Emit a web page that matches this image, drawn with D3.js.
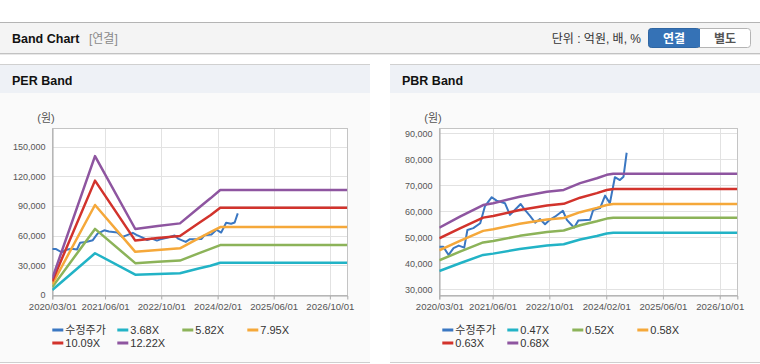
<!DOCTYPE html>
<html>
<head>
<meta charset="utf-8">
<script src="https://cdn.jsdelivr.net/npm/d3@7"></script>
<style>
    body { margin: 0; background: #fff; }
    svg text { font-family: "Liberation Sans", "Noto Sans CJK KR", sans-serif; }
</style>
</head>
<body>
<svg id="band-chart"></svg>
<script>
// Configuration
const config = {
    width: 760,
    height: 364,
    panelWidth: 370,
    plotTop: 128.3,
    plotBottom: 295
};

// Shared x axis
const xTickLabels = ['2020/03/01', '2021/06/01', '2022/10/01', '2024/02/01', '2025/06/01', '2026/10/01'];
const xDomain = ['2020/03/01', '2027/03/01'];

// Adjusted close price (수정주가)
const priceDates = [
    '2020/03/01', '2020/04/03', '2020/05/20', '2020/07/01', '2020/08/15', '2020/10/01',
    '2020/10/28', '2020/12/18', '2021/02/15', '2021/03/28', '2021/05/25', '2021/07/05',
    '2021/09/15', '2021/10/28', '2021/11/28', '2022/01/28', '2022/02/28', '2022/04/18',
    '2022/06/01', '2022/07/12', '2022/08/25', '2022/10/05', '2022/11/18', '2023/01/25',
    '2023/02/28', '2023/04/10', '2023/05/01', '2023/06/06', '2023/09/15', '2023/10/12',
    '2023/12/10', '2024/01/22', '2024/03/03', '2024/04/15', '2024/05/28', '2024/06/28',
    '2024/07/25'
];
const priceValues = [
    46400, 46400, 43200, 45800, 46800, 46000,
    52800, 53500, 55400, 62000, 65400, 64100,
    63100, 58600, 60000, 62800, 60800, 58200,
    55600, 57000, 55000, 56700, 57900, 60200,
    56700, 54700, 53700, 56400, 56700, 60500,
    61200, 66000, 63100, 73100, 72000, 73300,
    82500
];

// PER band
const perLabels = ['3.68X', '5.82X', '7.95X', '10.09X', '12.22X'];
const perDates = ['2020/03/01', '2021/03/06', '2022/02/18', '2022/09/01', '2023/03/12',
    '2023/08/20', '2023/12/01', '2024/02/24', '2027/03/01'];
const per368 = [5050, 42200, 20500, 21200, 21900, 26800, 29600, 32600, 32600];
const per582 = [8000, 66800, 32200, 33600, 34800, 42000, 46600, 50500, 50500];
const per795 = [10900, 91000, 43600, 45400, 47200, 57300, 63500, 68700, 68700];
const per1009 = [13850, 115600, 55000, 57500, 59700, 72600, 80600, 88200, 88200];
const per1222 = [16770, 140400, 66700, 69700, 72400, 88000, 97700, 106100, 106100];
const perYTicks = [0, 30000, 60000, 90000, 120000, 150000];
const perYDomain = [0, 168500];

// PBR band
const pbrLabels = ['0.47X', '0.52X', '0.58X', '0.63X', '0.68X'];
const pbrDates = ['2020/03/01', '2020/08/25', '2021/03/12', '2021/06/06', '2022/01/20', '2022/09/10',
    '2023/02/01', '2023/06/22', '2023/11/12', '2024/02/05', '2024/04/01', '2027/03/01'];
const pbr047 = [37040, 40020, 43210, 43710, 45480, 46840, 47320, 49160, 50520, 51450, 51770, 51770];
const pbr052 = [41150, 44460, 48020, 48570, 50540, 52050, 52590, 54640, 56150, 57180, 57540, 57540];
const pbr058 = [45000, 48600, 52460, 53060, 55200, 56840, 57420, 59650, 61290, 62410, 62800, 62800];
const pbr063 = [49600, 53430, 57550, 58200, 60480, 62220, 62850, 65220, 66970, 68160, 68580, 68580];
const pbr068 = [53700, 57900, 62400, 63100, 65600, 67500, 68200, 70800, 72700, 74000, 74460, 74460];
const pbrYTicks = [30000, 40000, 50000, 60000, 70000, 80000, 90000];
const pbrYDomain = [27800, 91900];

const colors = ['#3a77c2', '#22b3c6', '#8cb359', '#f5a83a', '#d2332c', '#8e55a0'];

const parseDate = d3.timeParse('%Y/%m/%d');
const zip = (dates, values) => dates.map((d, i) => ({ date: parseDate(d), value: values[i] }));

const svg = d3.select('#band-chart')
    .attr('width', config.width)
    .attr('height', config.height);

// Header bar
svg.append('rect').attr('x', 0).attr('y', 22).attr('width', 760).attr('height', 31).attr('fill', '#f4f4f4');
svg.append('line').attr('x1', 0).attr('x2', 760).attr('y1', 22.5).attr('y2', 22.5).attr('stroke', '#b4b4b4');
svg.append('line').attr('x1', 0).attr('x2', 760).attr('y1', 53.5).attr('y2', 53.5).attr('stroke', '#c2c2c2');
svg.append('line').attr('x1', 0).attr('x2', 760).attr('y1', 54.5).attr('y2', 54.5).attr('stroke', '#e8e8e8');
svg.append('text').attr('x', 12).attr('y', 43).attr('font-size', 12.5).attr('font-weight', 'bold')
    .attr('fill', '#111').text('Band Chart');
svg.append('text').attr('x', 89).attr('y', 43).attr('font-size', 12).attr('fill', '#8a8a8a').text('[연결]');
svg.append('text').attr('x', 641).attr('y', 43).attr('font-size', 12).attr('text-anchor', 'end')
    .attr('fill', '#333').text('단위 : 억원, 배, %');

// Toggle buttons
svg.append('rect').attr('x', 648.5).attr('y', 28.5).attr('width', 102).attr('height', 19).attr('rx', 3)
    .attr('fill', '#fff').attr('stroke', '#b4b4b4');
svg.append('rect').attr('x', 648.5).attr('y', 28.5).attr('width', 51).attr('height', 19).attr('rx', 3)
    .attr('fill', '#3572b6').attr('stroke', '#2f66a3');
svg.append('rect').attr('x', 694).attr('y', 29).attr('width', 6).attr('height', 18).attr('fill', '#3572b6');
svg.append('text').attr('x', 674).attr('y', 42.5).attr('font-size', 12).attr('font-weight', 'bold')
    .attr('text-anchor', 'middle').attr('fill', '#fff').text('연결');
svg.append('text').attr('x', 725).attr('y', 42.5).attr('font-size', 12).attr('font-weight', 'bold')
    .attr('text-anchor', 'middle').attr('fill', '#555').text('별도');

// Draw one band panel
function drawPanel(p) {
    const g = svg.append('g').attr('transform', `translate(${p.x0}, 0)`);

    g.append('rect').attr('x', 0).attr('y', 64).attr('width', config.panelWidth).attr('height', 298).attr('fill', '#fafafa');
    g.append('rect').attr('x', 0).attr('y', 64).attr('width', config.panelWidth).attr('height', 29).attr('fill', '#eef1f6');
    g.append('line').attr('x1', 0).attr('x2', config.panelWidth).attr('y1', 64.5).attr('y2', 64.5).attr('stroke', '#d0d0d0');
    g.append('line').attr('x1', 0).attr('x2', config.panelWidth).attr('y1', 362.5).attr('y2', 362.5).attr('stroke', '#cfcfcf');
    g.append('text').attr('x', 12).attr('y', 85).attr('font-size', 12.5).attr('font-weight', 'bold')
        .attr('fill', '#111').text(p.title);

    const x = d3.scaleTime()
        .domain(xDomain.map(parseDate))
        .range([p.left, p.right]);
    const y = d3.scaleLinear()
        .domain(p.yDomain)
        .range([config.plotBottom, config.plotTop]);

    const plotW = p.right - p.left;
    const plotH = config.plotBottom - config.plotTop;

    g.append('rect').attr('x', p.left).attr('y', config.plotTop).attr('width', plotW).attr('height', plotH).attr('fill', '#fff');

    const tickDates = xTickLabels.map(parseDate);

    // Grid lines
    g.append('g').selectAll('line.vgrid')
        .data(tickDates)
        .enter()
        .append('line')
        .attr('x1', d => Math.round(x(d)) + 0.5)
        .attr('x2', d => Math.round(x(d)) + 0.5)
        .attr('y1', config.plotTop)
        .attr('y2', config.plotBottom + 4)
        .attr('stroke', '#e2e2e2');
    g.append('g').selectAll('line.hgrid')
        .data(p.yTicks)
        .enter()
        .append('line')
        .attr('x1', p.left)
        .attr('x2', p.right)
        .attr('y1', d => Math.round(y(d)) + 0.5)
        .attr('y2', d => Math.round(y(d)) + 0.5)
        .attr('stroke', '#e2e2e2');

    // Frame
    g.append('rect').attr('x', Math.round(p.left) + 0.5).attr('y', Math.round(config.plotTop) + 0.5)
        .attr('width', Math.round(plotW)).attr('height', Math.round(plotH))
        .attr('fill', 'none').attr('stroke', '#c4c4c4');

    // X axis
    const xAxis = g.append('g')
        .attr('transform', `translate(0, ${Math.round(config.plotBottom) + 0.5})`)
        .call(d3.axisBottom(x).tickValues(tickDates).tickFormat(d3.timeFormat('%Y/%m/%d')).tickSize(4).tickPadding(4));
    xAxis.select('.domain').attr('stroke', '#a8a8a8');
    xAxis.selectAll('.tick line').attr('stroke', '#b0b0b0');
    xAxis.selectAll('.tick text').attr('font-size', 9.6).attr('fill', '#555');

    // Y axis
    const yAxis = g.append('g')
        .attr('transform', `translate(${Math.round(p.left) + 0.5}, 0)`)
        .call(d3.axisLeft(y).tickValues(p.yTicks).tickFormat(d3.format(',')).tickSize(0).tickPadding(7));
    yAxis.select('.domain').attr('stroke', '#a8a8a8');
    yAxis.selectAll('.tick text').attr('font-size', 9).attr('fill', '#555');

    g.append('text').attr('x', p.left - 15).attr('y', 122).attr('font-size', 11)
        .attr('fill', '#555').text('(원)');

    // Series
    const clipId = `clip-${p.title.replace(' ', '')}`;
    g.append('clipPath').attr('id', clipId)
        .append('rect').attr('x', p.left).attr('y', config.plotTop).attr('width', plotW).attr('height', plotH);

    const line = d3.line()
        .x(d => x(d.date))
        .y(d => y(d.value));

    const linesGroup = g.append('g').attr('clip-path', `url(#${clipId})`);
    linesGroup.selectAll('path')
        .data(p.series)
        .enter()
        .append('path')
        .attr('d', d => line(d.points))
        .attr('fill', 'none')
        .attr('stroke', (d, i) => colors[i])
        .attr('stroke-width', (d, i) => i === 0 ? 2 : 2.5)
        .attr('stroke-linejoin', 'round');

    // Legend (4 per row, fixed item width)
    const legend = g.append('g').selectAll('g')
        .data(p.series)
        .enter()
        .append('g')
        .attr('transform', (d, i) => `translate(${p.legendLeft + (i % 4) * 65}, ${330 + Math.floor(i / 4) * 13})`);
    legend.append('line')
        .attr('x1', 0).attr('x2', 11)
        .attr('stroke', (d, i) => colors[i])
        .attr('stroke-width', 3);
    legend.append('text')
        .attr('x', 13)
        .attr('dy', '0.36em')
        .attr('font-size', 11)
        .attr('fill', '#333')
        .text(d => d.name);
}

drawPanel({
    x0: 0,
    title: 'PER Band',
    left: 52.3,
    right: 347.3,
    yDomain: perYDomain,
    yTicks: perYTicks,
    legendLeft: 52.3,
    series: [
        { name: '수정주가', points: zip(priceDates, priceValues) },
        { name: perLabels[0], points: zip(perDates, per368) },
        { name: perLabels[1], points: zip(perDates, per582) },
        { name: perLabels[2], points: zip(perDates, per795) },
        { name: perLabels[3], points: zip(perDates, per1009) },
        { name: perLabels[4], points: zip(perDates, per1222) }
    ]
});

drawPanel({
    x0: 390,
    title: 'PBR Band',
    left: 49.3,
    right: 347.3,
    yDomain: pbrYDomain,
    yTicks: pbrYTicks,
    legendLeft: 52.3,
    series: [
        { name: '수정주가', points: zip(priceDates, priceValues) },
        { name: pbrLabels[0], points: zip(pbrDates, pbr047) },
        { name: pbrLabels[1], points: zip(pbrDates, pbr052) },
        { name: pbrLabels[2], points: zip(pbrDates, pbr058) },
        { name: pbrLabels[3], points: zip(pbrDates, pbr063) },
        { name: pbrLabels[4], points: zip(pbrDates, pbr068) }
    ]
});
</script>
</body>
</html>
